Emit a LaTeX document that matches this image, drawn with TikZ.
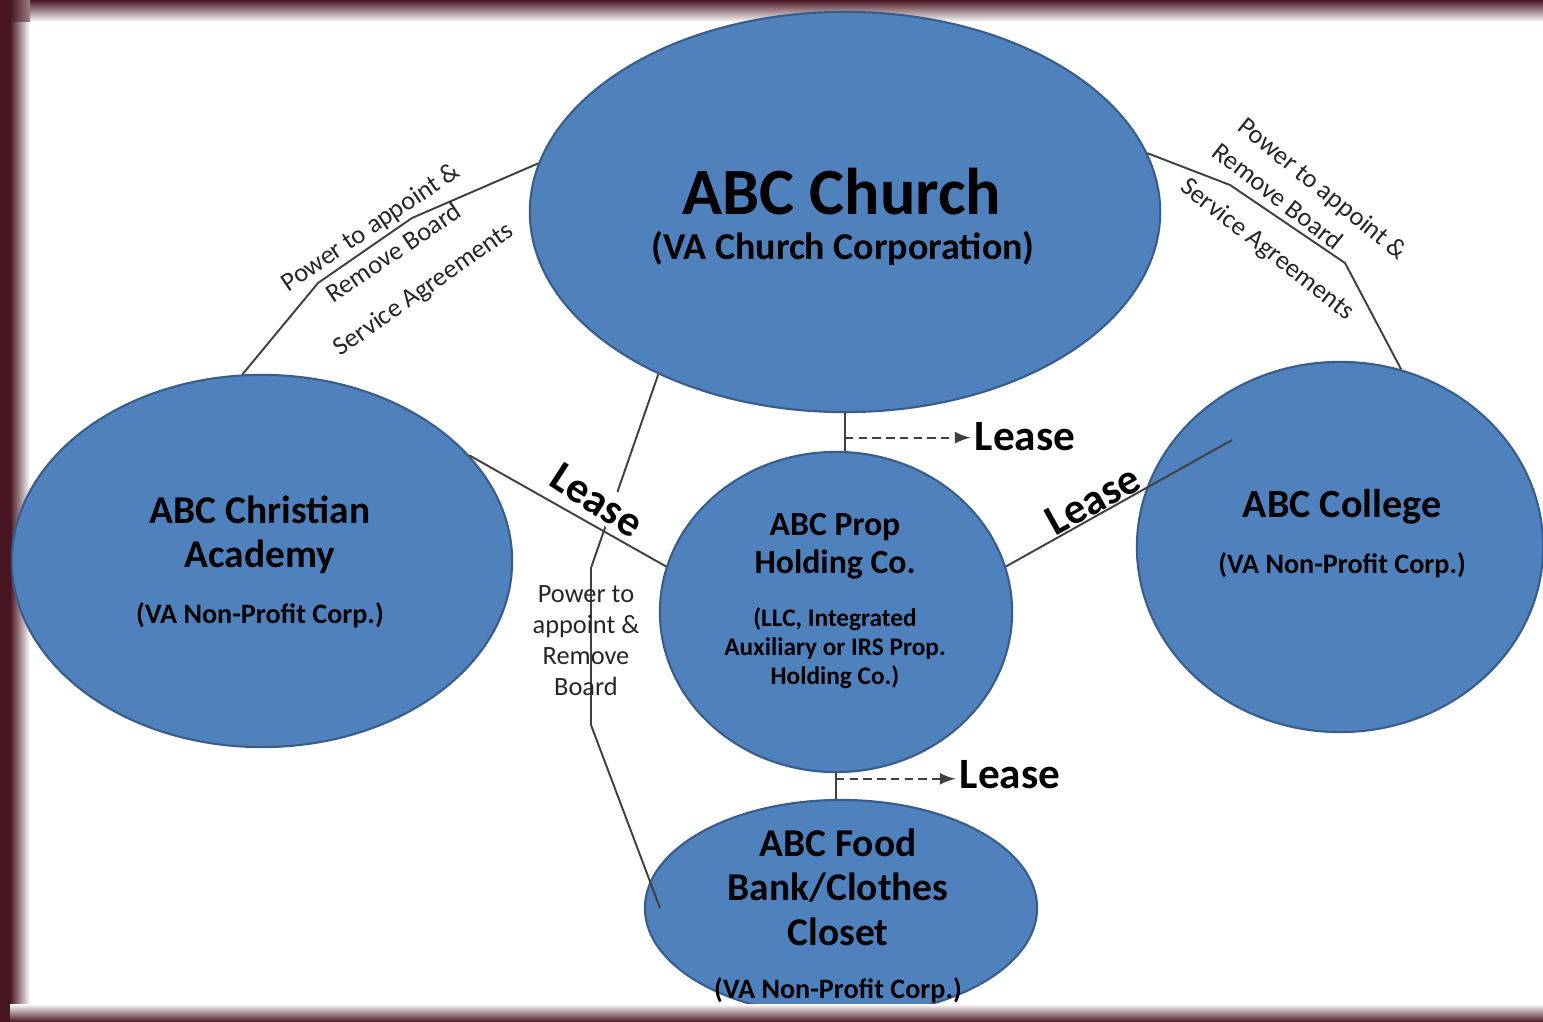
\documentclass[tikz,border=0pt]{standalone}
\usepackage{fontspec}
\setmainfont{Carlito}
\usetikzlibrary{positioning, calc, shapes.geometric}

\definecolor{orgblue}{RGB}{79,129,189}
\definecolor{orgedge}{RGB}{56,93,138}
\definecolor{framered}{RGB}{72,22,34}
\definecolor{linkgrey}{RGB}{64,64,64}
\definecolor{labelgrey}{RGB}{38,38,38}

\begin{document}
\begin{tikzpicture}[x=0.01cm, y=-0.01cm,
  org/.style={ellipse, draw=orgedge, fill=orgblue, line width=0.6pt, inner sep=0pt},
  orgname/.style={align=center, font=\bfseries\fontsize{11.2}{12.4}\selectfont},
  orgtype/.style={align=center, font=\bfseries\fontsize{8}{8.3}\selectfont},
  link/.style={draw=linkgrey, line width=0.55pt},
  role/.style={text=labelgrey, inner sep=0pt, font=\fontsize{7.5}{8.8}\selectfont},
  lease/.style={inner sep=1pt, font=\bfseries\fontsize{12.3}{13}\selectfont}]

			\useasboundingbox (0,0) rectangle (1543,1022);
			% frame
			\fill[white] (0,0) rectangle (1543,1022);
			\shade[top color=framered, bottom color=white] (30,0) rectangle (1543,22);
			\fill[framered] (0,0) rectangle (10,1022);
			\shade[left color=framered, right color=white] (10,22) rectangle (30,1022);
			\shade[left color=framered, right color=framered!55!white] (10,0) rectangle (30,22);

			\node (0) at (845,212) [org, minimum width=6.3cm, minimum height=4.0cm] {};
			\node (1) at (262,561) [org, minimum width=5.0cm, minimum height=3.72cm] {};
			\node (2) at (836,612) [org, minimum width=3.52cm, minimum height=3.2cm] {};
			\node (3) at (1340,547) [org, minimum width=4.06cm, minimum height=3.7cm] {};
			\node (4) at (841,908) [org, minimum width=3.92cm, minimum height=2.16cm] {};
			\coordinate (c3) at (1232,440);
			\coordinate (c4) at (660,908);

			\draw[link] (0.171) -- (412,218) -- (318,283) -- (1.96);
			\draw[link] (0.11) -- (1230,185) -- (1345,263) -- (3.71);
			\draw[link] (1.27) to (2.165);
			\draw[link] (2.15) to (c3);
			\draw[link] (0.221) -- (591,568) -- (591,725) -- (c4);
			\draw[link] (0.south) -- coordinate[pos=.65] (a0) (0.south |- 2.north);
			\draw[link] (2.south) -- coordinate[pos=.22] (a2) (2.south |- 4.north);

			\node (0t) at (842,192) [font=\bfseries\fontsize{18.8}{20}\selectfont] {ABC Church};
			\node (0s) at (843,248) [font=\bfseries\fontsize{10.8}{12}\selectfont] {(VA Church Corporation)};
			\node (1t) at (260,535) [orgname] {ABC Christian\\Academy};
			\node (1s) at (260,615) [orgtype] {(VA Non-Profit Corp.)};
			\node (2t) at (835,546) [align=center, font=\bfseries\fontsize{9.6}{10.8}\selectfont] {ABC Prop\\Holding Co.};
			\node (2s) at (835,648) [align=center, font=\bfseries\fontsize{7.2}{8.25}\selectfont] {(LLC, Integrated\\Auxiliary or IRS Prop.\\Holding Co.)};
			\node (3t) at (1342,507) [orgname, font=\bfseries\fontsize{11.4}{12.4}\selectfont] {ABC College};
			\node (3s) at (1342,565) [orgtype] {(VA Non-Profit Corp.)};
			\node (4t) at (838,887) [orgname, font=\bfseries\fontsize{11.2}{12.7}\selectfont] {ABC Food\\Bank/Clothes\\Closet};
			\node (4s) at (838,990) [orgtype] {(VA Non-Profit Corp.)};

			\node (lease0) at (1025,437) [lease] {Lease};
			\node (lease1) at (597,500) [lease, rotate=-33, fill=white] {Lease};
			\node (lease2) at (1010,775) [lease] {Lease};
			\node (lease3) at (1093,500) [lease, rotate=29] {Lease};
			\draw[link, dash pattern=on 2.4pt off 1.5pt, -latex] (a0) -- (a0 -| lease0.west);
			\draw[link, dash pattern=on 2.4pt off 1.5pt, -latex] (a2) -- (a2 -| lease2.west);

			\node (r0) at (371,228) [role, rotate=34] {Power to appoint \&};
			\node (r1) at (393,252) [role, rotate=34] {Remove Board};
			\node (r2) at (424,290) [role, rotate=35] {Service Agreements};
			\node (r3) at (1322,190) [role, rotate=-39] {Power to appoint \&};
			\node (r4) at (1278,196) [role, rotate=-38] {Remove Board};
			\node (r5) at (1267,250) [role, rotate=-38] {Service Agreements};
			\node (r6) at (586,641) [role, align=center] {Power to\\appoint \&\\Remove\\Board};

			% bottom edge of the frame
			\shade[top color=white, bottom color=framered] (10,1004) rectangle (1543,1022);
			\fill[framered] (0,0) rectangle (10,1022);
		\end{tikzpicture}
\end{document}
